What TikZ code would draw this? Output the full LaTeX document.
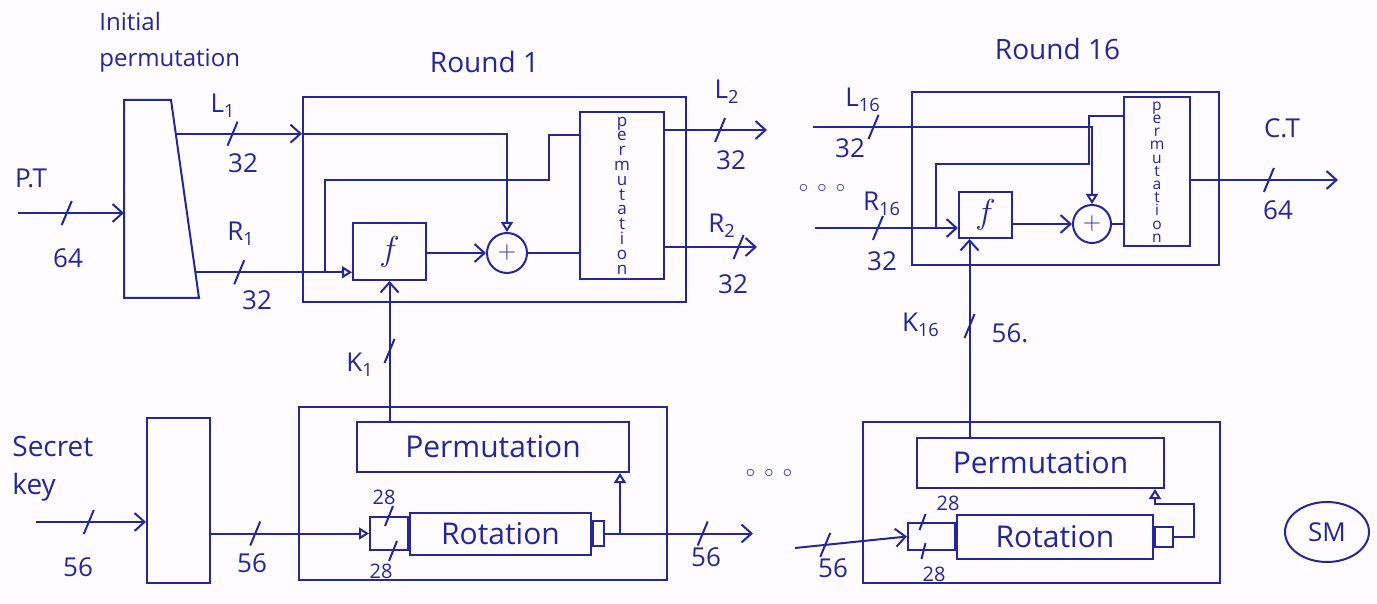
\documentclass[tikz,border=0pt]{standalone}
\usepackage{fontspec}
\setmainfont{Open Sans}
\usetikzlibrary{arrows.meta,positioning,calc,decorations.markings,shapes.geometric}
\definecolor{ink}{RGB}{38,38,150}
\definecolor{paper}{RGB}{254,252,255}
\newcommand{\vstackfont}{\fontsize{8.5}{7.4}\selectfont\lineskiplimit=-20pt\relax}
\newcommand{\vstacksmall}{\fontsize{7.8}{6.6}\selectfont\lineskiplimit=-20pt\relax}

\begin{document}
\begin{tikzpicture}[
  x=0.5pt, y=-0.5pt,
  every node/.style={font=\fontsize{13}{15}\selectfont, text=ink},
  box/.style={draw=ink, line width=1pt, inner sep=0pt},
  xor/.style={draw=ink, line width=1pt, circle, inner sep=0pt, minimum size=20pt},
  vtxt/.style={align=center, font=\vstackfont},
  fbox/.style={box, font=\fontsize{16}{18}\selectfont},
  kbox/.style={box, font=\fontsize{15}{17}\selectfont},
  wire/.style={draw=ink, line width=1pt},
  arr/.style={wire, -{Straight Barb[length=5pt,width=9pt]}},
  tri/.style={wire, -{Triangle[open,length=5pt,width=6pt]}},
  bus/.style={postaction={decorate, decoration={markings, mark=at position #1 with
    {\pgftransformresetnontranslations\draw[-, ink, line width=1pt] (-2.5pt,-6pt) -- (2.5pt,6pt);}}}},
  lbl/.style={inner sep=1pt},
  small/.style={font=\fontsize{10}{12}\selectfont},
  title/.style={font=\fontsize{14}{16}\selectfont}
]
\fill[paper] (0,0) rectangle (1377,604);

% initial permutation
\node[box, draw=none, minimum width=36.5pt, minimum height=98pt] (ip) at (161.5,199) {};
\draw[wire] (ip.south west) -- (ip.north west) -- ([xshift=-14pt]ip.north east) -- (ip.south east) -- cycle;
\coordinate (ipL) at ($([xshift=-14pt]ip.north east)!0.17!(ip.south east)$);
\coordinate (ipR) at ($([xshift=-14pt]ip.north east)!0.87!(ip.south east)$);
\node[lbl, align=left, anchor=north west, font=\fontsize{12}{18}\selectfont] (iplbl) at (97,10) {Initial\\permutation};

% round 1
\node[box, minimum width=191.5pt, minimum height=102.5pt] (r1) at (494.5,199.5) {};
\node[title, above=8pt of r1, xshift=-5pt] (r1lbl) {Round 1};
\node[fbox, minimum width=36.5pt, minimum height=28.5pt] (f1) at (389.5,251.5) {$f$};
\node[xor] (x1) at (507,253) {$+$};
\node[box, vtxt, minimum width=42pt, minimum height=83.5pt] (p1) at (622,195.5) {p\\e\\r\\m\\u\\t\\a\\t\\i\\o\\n};

\coordinate (ptin) at (18,213);
\draw[arr, bus=.46] (ptin) -- (ptin -| ip.west);
\node[lbl] (ptlbl) at (31,178) {P.T};
\node[lbl] (pt64) at (68,258) {64};

\draw[arr, bus=.45] (ipL) -- (ipL -| r1.west);
\node[lbl] (l1lbl) at (223,106) {L\textsubscript{1}};
\node[lbl] (l1n) at (243,163) {32};
\draw[tri] (ipL -| r1.west) -| (x1.north);

\draw[tri, bus=.28] (ipR) -- (ipR -| f1.west);
\node[lbl] (r1lbl2) at (241,234) {R\textsubscript{1}};
\node[lbl] (r1n) at (257,300) {32};
\coordinate (r1tap) at ($(ipR -| r1.west)+(11.5pt,0)$);
\draw[wire] (r1tap) |- (549,180) |- ([yshift=-12pt]p1.north west);

\draw[arr] (f1.east |- x1.west) -- (x1.west);
\draw[wire] (x1.east) -- (x1.east -| p1.west);

\coordinate (l2out) at (767,130);
\draw[arr, bus=.54] (p1.east |- l2out) -- (l2out);
\node[lbl] (l2lbl) at (727,92) {L\textsubscript{2}};
\node[lbl] (l2n) at (731,160) {32};
\coordinate (r2out) at (757,247);
\draw[arr, bus=.8] (p1.east |- r2out) -- (r2out);
\node[lbl] (r2lbl) at (722,226) {R\textsubscript{2}};
\node[lbl] (r2n) at (733,284) {32};

\node[lbl, font=\fontsize{9}{10}\selectfont] (dots1) at (822,188) {$\circ\;\circ\;\circ$};

% round 16
\node[box, minimum width=153.5pt, minimum height=86.5pt] (r16) at (1065.5,178.5) {};
\node[title, above=12pt of r16, xshift=-4pt] (r16lbl) {Round 16};
\node[fbox, minimum width=26.5pt, minimum height=23pt] (f16) at (985.5,215) {$f$};
\node[xor, minimum size=19pt] (x16) at (1092,224) {$+$};
\node[box, vtxt, font=\vstacksmall, minimum width=33pt, minimum height=74.5pt] (p16) at (1157,172) {p\\e\\r\\m\\u\\t\\a\\t\\i\\o\\n};

\coordinate (l16in) at (813,127);
\draw[tri, bus=.17] (l16in) -| (x16.north);
\node[lbl] (l16lbl) at (863,100) {L\textsubscript{16}};
\node[lbl] (l16n) at (850,148) {32};

\coordinate (r16in) at (815,228);
\draw[arr, bus=.44] (r16in) -- (r16in -| f16.west);
\node[lbl] (r16lbl2) at (882,204) {R\textsubscript{16}};
\node[lbl] (r16n) at (882,261) {32};
\coordinate (r16tap) at ($(r16in -| r16.west)+(12.5pt,0)$);
\draw[wire] (r16tap) |- (1089,164) |- ([yshift=-10pt]p16.north west);

\draw[arr] (f16.east |- x16.west) -- (x16.west);
\draw[wire] (x16.east) -- (x16.east -| p16.west);

\coordinate (ctout) at (1338,180);
\draw[arr, bus=.53] (p16.east |- ctout) -- (ctout);
\node[lbl] (ctlbl) at (1282,128) {C.T};
\node[lbl] (ctn) at (1278,210) {64};

% key schedule
\node[box, minimum width=31.5pt, minimum height=82.5pt] (kp) at (178.5,500.5) {};
\coordinate (skin) at (36,522);
\draw[arr, bus=.48] (skin) -- (skin -| kp.west);
\node[lbl, align=left, anchor=north west, font=\fontsize{14}{19}\selectfont] (sklbl) at (10,434) {Secret\\key};
\node[lbl] (skn) at (78,567) {56};

\node[box, minimum width=184pt, minimum height=86.5pt] (k1) at (483,493.5) {};
\node[kbox, minimum width=136pt, minimum height=25pt] (kperm1) at (493,447) {Permutation};
\node[box, minimum width=19pt, minimum height=16.5pt] (sl1) at (389,533.5) {};
\node[kbox, minimum width=90.5pt, minimum height=21pt, right=0pt of sl1] (rot1) {Rotation};
\node[box, minimum width=5.5pt, minimum height=12.5pt, right=0pt of rot1] (sr1) {};

\draw[tri, bus=.28] (kp.east |- sl1.west) -- (sl1.west);
\node[lbl] (kpn) at (252,563) {56};
\draw[wire] (sl1.north) ++(-2pt,-5pt) -- ++(4pt,10pt);
\draw[wire] (sl1.south) ++(0pt,-5pt) -- ++(4pt,10pt);
\node[lbl, small] (sl1a) at (384,497) {28};
\node[lbl, small] (sl1b) at (381,571) {28};

\coordinate (k1out) at ([xshift=74pt]sr1.east);
\draw[arr, bus=.66] (sr1.east) -- (k1out);
\node[lbl] (k1n) at (706,557) {56};
\coordinate (k1tap) at ([xshift=7.5pt]sr1.east);
\draw[tri] (k1tap) -- (k1tap |- kperm1.south);

\draw[arr, bus=.5] (f1.south |- kperm1.north) -- (f1.south);
\node[lbl] (k1lbl) at (360,365) {K\textsubscript{1}};

\node[lbl, font=\fontsize{9}{10}\selectfont] (dots2) at (769,473) {$\circ\;\circ\;\circ$};

% key round 16
\node[box, minimum width=178.5pt, minimum height=80.5pt] (k16) at (1041.5,502.5) {};
\node[kbox, minimum width=123.5pt, minimum height=25pt] (kperm16) at (1040.5,463) {Permutation};
\node[box, minimum width=23.5pt, minimum height=13.5pt] (sl16) at (931.5,536.5) {};
\node[kbox, minimum width=98pt, minimum height=22pt, right=0pt of sl16] (rot16) {Rotation};
\node[box, minimum width=9pt, minimum height=10pt, right=0pt of rot16] (sr16) {};

\coordinate (k16in) at (795,548);
\draw[arr, bus=.27] (k16in) -- (sl16.west);
\node[lbl] (k16n) at (833,568) {56};
\draw[wire] (sl16.north) ++(-6pt,-4pt) -- ++(3pt,8pt);
\draw[wire] (sl16.south) ++(-5pt,-4pt) -- ++(2pt,8pt);
\node[lbl, small] (sl16a) at (948,503) {28};
\node[lbl, small] (sl16b) at (934,574) {28};

\coordinate (p16in) at ([xshift=-5pt]kperm16.south east);
\draw[tri] (sr16.east) -- ++(10pt,0) |- ([yshift=-7.5pt]p16in) -- (p16in);

\coordinate (f16k) at ([xshift=-8pt]f16.south);
\draw[arr, bus=.56] (f16k |- kperm16.north) -- (f16k);
\node[lbl] (k16lbl) at (921,325) {K\textsubscript{16}};
\node[lbl] (k16n2) at (1010,333) {56.};

\node[draw=ink, ellipse, line width=1pt, minimum width=42pt, minimum height=30pt, inner sep=0pt] (sm) at (1327,532) {SM};
\end{tikzpicture}
\end{document}
